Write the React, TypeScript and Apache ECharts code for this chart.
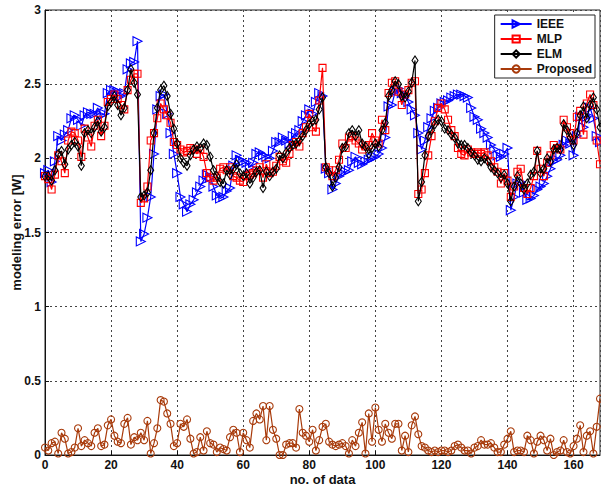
import { useEffect, useRef } from "react";
import * as echarts from "echarts";

// Modeling error [W] for each data sample (index 0..168)
const ieee = [
  1.90, 1.92, 1.84, 1.98, 2.15, 2.12, 2.16, 2.19, 2.27, 2.29,
  2.26, 2.22, 2.29, 2.31, 2.30, 2.30, 2.34, 2.29, 2.30, 2.44,
  2.46, 2.46, 2.45, 2.42, 2.44, 2.60, 2.64, 2.65, 2.79, 1.44,
  1.49, 1.60, 1.74, 2.03, 2.33, 2.42, 2.43, 2.30, 2.17, 2.03,
  1.90, 1.74, 1.69, 1.64, 1.69, 1.72, 1.77, 1.81, 1.85, 1.89,
  1.87, 1.81, 1.75, 1.73, 1.74, 1.78, 1.80, 1.95, 2.02, 1.99,
  1.98, 1.97, 1.94, 1.97, 2.03, 2.04, 2.02, 2.01, 2.00, 2.05,
  2.11, 2.11, 2.14, 2.12, 2.10, 2.15, 2.17, 2.19, 2.25, 2.29,
  2.33, 2.30, 2.38, 2.44, 2.42, 1.93, 1.90, 1.79, 1.83, 1.88,
  1.90, 1.91, 1.92, 1.98, 2.01, 1.97, 1.96, 1.98, 1.99, 2.00,
  2.01, 2.03, 2.07, 2.14, 2.35, 2.36, 2.45, 2.47, 2.44, 2.42,
  2.38, 2.33, 2.29, 2.17, 2.06, 2.12, 2.21, 2.27, 2.32, 2.34,
  2.37, 2.38, 2.39, 2.41, 2.42, 2.43, 2.43, 2.42, 2.41, 2.34,
  2.28, 2.26, 2.20, 2.17, 2.14, 2.09, 2.06, 2.02, 2.01, 2.03,
  2.07, 1.65, 1.74, 1.83, 1.84, 1.77, 1.72, 1.73, 1.75, 1.79,
  1.81, 1.83, 1.88, 1.93, 1.98, 1.99, 2.02, 2.09, 2.12, 2.10,
  2.02, 2.15, 2.28, 2.21, 2.28, 2.34, 2.27, 2.15, 2.11,
];

const mlp = [
  1.88, 1.86, 1.79, 1.89, 2.02, 1.98, 1.90, 2.12, 2.18, 2.17,
  2.12, 2.01, 2.20, 2.14, 2.08, 2.22, 2.26, 2.15, 2.22, 2.38,
  2.40, 2.43, 2.40, 2.36, 2.33, 2.46, 2.53, 2.57, 2.57, 1.70,
  1.73, 1.81, 2.12, 2.17, 2.27, 2.37, 2.33, 2.29, 2.24, 2.11,
  2.09, 2.06, 2.04, 2.05, 2.07, 2.06, 2.03, 2.06, 2.01, 1.90,
  1.87, 1.85, 1.87, 1.93, 1.94, 1.92, 1.94, 1.88, 1.87, 1.85,
  1.84, 1.88, 1.89, 1.90, 1.92, 1.94, 1.87, 1.96, 1.90, 1.91,
  1.95, 2.01, 1.98, 1.97, 2.03, 2.09, 2.11, 2.08, 2.17, 2.21,
  2.30, 2.21, 2.18, 2.39, 2.61, 1.94, 1.92, 1.88, 1.92, 1.99,
  2.10, 2.07, 2.14, 2.15, 2.12, 2.10, 2.06, 2.08, 2.09, 2.17,
  2.12, 2.10, 2.26, 2.19, 2.44, 2.51, 2.52, 2.45, 2.36, 2.43,
  2.46, 2.51, 2.52, 1.76, 1.79, 1.90, 2.02, 2.15, 2.25, 2.34,
  2.37, 2.33, 2.26, 2.19, 2.15, 2.07, 2.03, 2.02, 2.06, 2.04,
  2.03, 2.04, 2.03, 2.04, 2.02, 1.98, 1.94, 1.91, 1.83, 1.90,
  1.85, 1.74, 1.81, 1.91, 1.93, 1.80, 1.76, 1.80, 1.88, 2.05,
  1.93, 1.88, 1.97, 2.02, 2.09, 2.07, 2.06, 2.26, 2.21, 2.17,
  2.12, 2.28, 2.32, 2.16, 2.37, 2.43, 2.36, 2.12, 1.96,
];

const elm = [
  1.88, 1.88, 1.85, 1.92, 2.03, 2.05, 1.96, 2.06, 2.09, 2.11,
  2.08, 1.95, 2.17, 2.19, 2.17, 2.21, 2.25, 2.18, 2.21, 2.35,
  2.38, 2.42, 2.36, 2.29, 2.34, 2.46, 2.60, 2.51, 2.43, 1.74,
  1.75, 1.77, 1.92, 2.17, 2.34, 2.46, 2.49, 2.42, 2.30, 2.20,
  2.10, 2.00, 1.97, 1.95, 2.02, 2.06, 2.08, 2.07, 2.10, 2.09,
  2.01, 1.92, 1.88, 1.84, 1.83, 1.92, 1.89, 1.93, 1.96, 1.90,
  1.88, 1.90, 1.83, 1.87, 1.91, 1.92, 1.80, 1.91, 1.88, 1.91,
  1.93, 2.02, 2.00, 2.04, 2.07, 2.09, 2.10, 2.12, 2.15, 2.19,
  2.23, 2.25, 2.26, 2.33, 2.41, 1.94, 1.90, 1.81, 1.87, 1.94,
  2.07, 2.08, 2.17, 2.19, 2.15, 2.19, 2.10, 2.08, 2.03, 2.07,
  2.10, 2.08, 2.19, 2.24, 2.42, 2.46, 2.52, 2.50, 2.42, 2.41,
  2.45, 2.51, 2.66, 1.71, 1.84, 2.02, 2.15, 2.19, 2.23, 2.26,
  2.25, 2.20, 2.19, 2.16, 2.14, 2.10, 2.09, 2.09, 2.07, 2.04,
  2.02, 1.99, 1.98, 2.00, 1.98, 1.94, 1.92, 1.90, 1.87, 1.89,
  1.83, 1.71, 1.81, 1.88, 1.83, 1.79, 1.83, 1.89, 1.91, 2.05,
  1.90, 1.93, 2.00, 1.98, 2.06, 2.07, 2.06, 2.23, 2.19, 2.14,
  2.09, 2.17, 2.29, 2.35, 2.27, 2.36, 2.41, 2.33, 2.21,
];

const proposed = [
  0.05, 0.03, 0.08, 0.09, 0.01, 0.15, 0.11, 0.01, 0.02, 0.05,
  0.18, 0.06, 0.10, 0.08, 0.06, 0.15, 0.18, 0.06, 0.07, 0.20,
  0.24, 0.13, 0.09, 0.08, 0.21, 0.25, 0.07, 0.12, 0.10, 0.15,
  0.10, 0.23, 0.01, 0.08, 0.18, 0.37, 0.36, 0.28, 0.21, 0.06,
  0.08, 0.21, 0.19, 0.24, 0.11, 0.01, 0.02, 0.12, 0.03, 0.16,
  0.08, 0.07, 0.02, 0.05, 0.04, 0.03, 0.12, 0.17, 0.15, 0.02,
  0.15, 0.10, 0.05, 0.23, 0.28, 0.24, 0.33, 0.10, 0.33, 0.17,
  0.11, 0.00, 0.00, 0.07, 0.08, 0.08, 0.05, 0.31, 0.15, 0.13,
  0.09, 0.17, 0.03, 0.10, 0.19, 0.21, 0.09, 0.07, 0.06, 0.07,
  0.08, 0.06, 0.01, 0.10, 0.06, 0.15, 0.22, 0.01, 0.28, 0.09,
  0.32, 0.17, 0.09, 0.21, 0.15, 0.11, 0.21, 0.21, 0.03, 0.13,
  0.02, 0.20, 0.26, 0.14, 0.06, 0.05, 0.03, 0.02, 0.03, 0.02,
  0.03, 0.03, 0.02, 0.03, 0.06, 0.07, 0.05, 0.03, 0.03, 0.01,
  0.05, 0.06, 0.10, 0.07, 0.07, 0.08, 0.05, 0.02, 0.02, 0.07,
  0.11, 0.16, 0.02, 0.03, 0.03, 0.02, 0.13, 0.10, 0.01, 0.09,
  0.13, 0.10, 0.03, 0.11, 0.00, 0.02, 0.03, 0.10, 0.02, 0.01,
  0.06, 0.11, 0.20, 0.02, 0.13, 0.16, 0.01, 0.19, 0.38,
];

const seriesNames = ["IEEE", "MLP", "ELM", "Proposed"];

const FONT = "'Liberation Sans', Arial, Helvetica, sans-serif";

const toPoints = (values: number[]) => values.map((v, i) => [i, v]);

function lineSeries(
  name: string,
  values: number[],
  color: string,
  symbol: string,
  symbolSize: number | number[],
  extra: Record<string, unknown> = {}
) {
  return {
    name,
    type: "line",
    data: toPoints(values),
    symbol,
    symbolSize,
    showAllSymbol: true,
    lineStyle: { color, width: 1.2 },
    itemStyle: { color: "rgba(0,0,0,0)", borderColor: color, borderWidth: 1.1 },
    emphasis: { disabled: true },
    ...extra,
  };
}

export default function App() {
  const ref = useRef<HTMLDivElement>(null);

  useEffect(() => {
    if (!ref.current) return;
    const chart = echarts.init(ref.current, undefined, { renderer: "svg" });

    const gridLine = { show: true, lineStyle: { color: "#444", width: 1, type: [2, 3] } };
    const tickLabel = { color: "#111", fontFamily: FONT, fontWeight: "bold", fontSize: 12 };
    const axisName = { color: "#111", fontFamily: FONT, fontWeight: "bold", fontSize: 13 };

    chart.setOption({
      animation: false,
      backgroundColor: "#fff",
      grid: {
        left: 45,
        right: 1,
        top: 10,
        bottom: 33,
        outerBoundsMode: "none",
        containLabel: false,
        show: true,
        borderColor: "#222",
        borderWidth: 1,
      },
      legend: {
        data: seriesNames,
        orient: "vertical",
        right: 6,
        top: 15,
        itemWidth: 31,
        itemHeight: 9,
        itemGap: 3,
        padding: [3, 3, 3, 5],
        backgroundColor: "#fff",
        borderColor: "#222",
        borderWidth: 1,
        borderRadius: 0,
        textStyle: { color: "#111", fontFamily: FONT, fontWeight: "bold", fontSize: 12 },
        selectedMode: false,
      },
      xAxis: {
        type: "value",
        min: 0,
        max: 168,
        interval: 20,
        name: "no. of data",
        nameLocation: "middle",
        nameGap: 18,
        nameMoveOverlap: false,
        nameTextStyle: axisName,
        axisLine: { show: true, onZero: false, lineStyle: { color: "#111", width: 1 } },
        axisTick: { show: true, inside: true, length: 4, lineStyle: { color: "#111" } },
        axisLabel: { ...tickLabel, margin: 4, showMaxLabel: false },
        splitLine: gridLine,
      },
      yAxis: {
        type: "value",
        min: 0,
        max: 3,
        interval: 0.5,
        name: "modeling error [W]",
        nameLocation: "middle",
        nameGap: 22,
        nameMoveOverlap: false,
        nameTextStyle: axisName,
        axisLine: { show: true, onZero: false, lineStyle: { color: "#111", width: 1 } },
        axisTick: { show: true, inside: true, length: 4, lineStyle: { color: "#111" } },
        axisLabel: { ...tickLabel, margin: 4 },
        splitLine: gridLine,
      },
      series: [
        lineSeries("IEEE", ieee, "#0000ff", "triangle", 9, { symbolRotate: -90, z: 2 }),
        lineSeries("MLP", mlp, "#ff0000", "rect", 7, { z: 3 }),
        lineSeries("ELM", elm, "#000000", "diamond", [6, 9], { z: 4 }),
        lineSeries("Proposed", proposed, "#a83a0a", "circle", 7, { z: 5 }),
      ],
    });

    return () => chart.dispose();
  }, []);

  return (
    <div
      ref={ref}
      style={{ position: "fixed", left: 0, top: 0, width: 601, height: 488, background: "#fff" }}
    />
  );
}
